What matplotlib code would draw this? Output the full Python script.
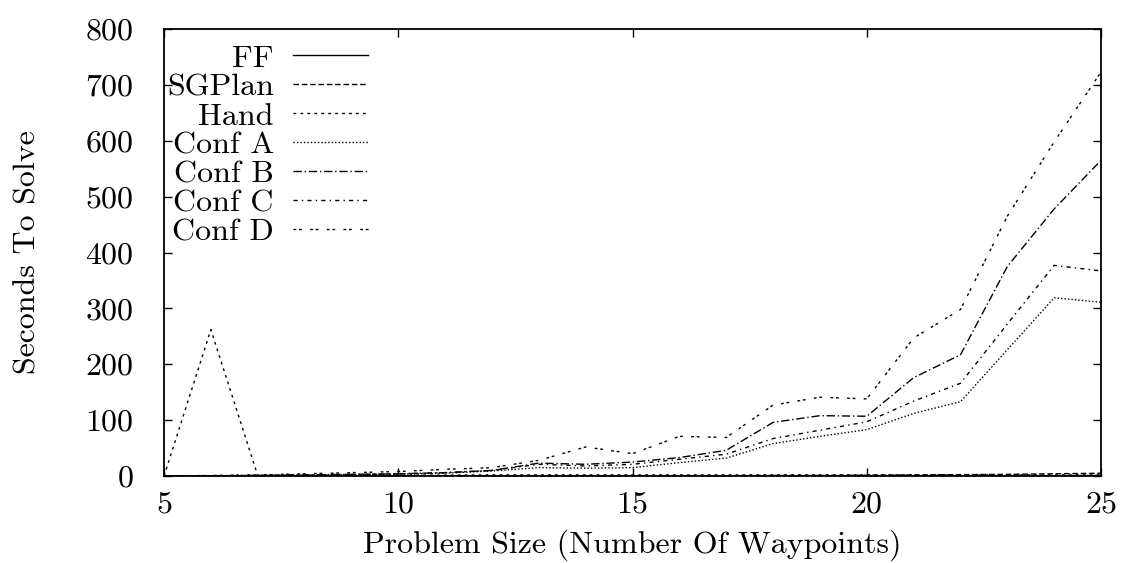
import matplotlib
matplotlib.use("Agg")
import matplotlib.pyplot as plt

# waypoint counts
sizes = list(range(5, 26))

ff     = [0, 0, 0, 0, 0, 0, 0, 0, 0, 0, 0, 0, 0, 0, 0, 0, 0, 0, 0, 0.5, 1]
sgplan = [0, 0, 0, 0, 0, 0, 0, 0, 0.5, 0.5, 0.5, 0.5, 0.5, 1, 1, 1.5, 2, 2.5, 3, 4, 5]
hand   = [0, 262, 1, 1, 1, 1.5, 1.5, 2, 2, 2, 2, 2, 2, 2, 2, 2, 2, 2, 2, 2, 2]
conf_a = [0, 0.5, 1, 1.5, 2, 3, 5, 9, 15, 14, 15, 24, 32, 58, 71, 83, 112, 133, 226, 319, 311]
conf_b = [0, 0.5, 1, 2, 3, 4, 6, 10, 23, 21, 25, 33, 46, 96, 108, 107, 176, 217, 375, 478, 565]
conf_c = [0, 0.5, 1, 2, 3, 4, 6, 10, 21, 18, 21, 30, 39, 67, 82, 97, 134, 166, 272, 377, 367]
conf_d = [0, 1, 2, 4, 6, 8, 12, 15, 28, 52, 40, 71, 69, 127, 141, 138, 247, 298, 465, 598, 723]

series = [
    ("FF", ff, "-"),
    ("SGPlan", sgplan, (0, (4, 2))),
    ("Hand", hand, (0, (2, 3))),
    ("Conf A", conf_a, (0, (1, 1.5))),
    ("Conf B", conf_b, (0, (6, 2, 1, 2))),
    ("Conf C", conf_c, (0, (3, 3, 1, 3))),
    ("Conf D", conf_d, (0, (2, 2, 2, 6))),
]

plt.rcParams["font.family"] = "cmr10"
plt.rcParams["axes.formatter.use_mathtext"] = True
plt.rcParams["font.size"] = 23

fig = plt.figure(figsize=(11.25, 5.63), dpi=100)
ax = fig.add_axes([0.1458, 0.1545, 0.8329, 0.794])

for name, vals, ls in series:
    ax.plot(sizes, vals, color="black", linestyle=ls, linewidth=1.0, label=name)

ax.set_xlim(5, 25)
ax.set_ylim(0, 800)
ax.set_xticks([5, 10, 15, 20, 25])
ax.set_yticks(range(0, 801, 100))
ax.tick_params(direction="in", length=6, width=1.0, top=True, right=True)
ax.tick_params(axis="x", pad=11)
ax.tick_params(axis="y", pad=22)
for sp in ax.spines.values():
    sp.set_linewidth(1.3)

ax.set_xlabel("Problem Size (Number Of Waypoints)", labelpad=8)
ax.set_ylabel("Seconds To Solve", labelpad=31)

# key sits just inside the left spine, labels right-aligned before the samples
leg = ax.legend(loc="upper left", bbox_to_anchor=(0.003, 0.966), frameon=False,
                markerfirst=False, handlelength=2.35, handletextpad=0.6,
                labelspacing=0.02, borderaxespad=0.0, borderpad=0.0)

fig.savefig("out.png", dpi=100)
